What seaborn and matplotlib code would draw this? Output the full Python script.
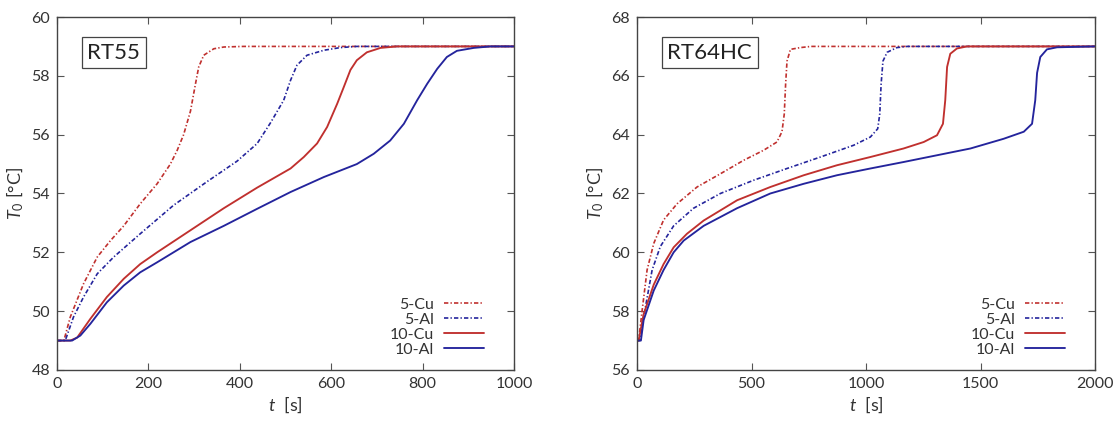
import numpy as np
import pandas as pd
import matplotlib
matplotlib.use("Agg")
import matplotlib.pyplot as plt
import seaborn as sns

# RT55 curves (t in s, T0 in degC)
rt55_cu5_t = [0, 15, 29, 58, 88, 117, 146, 182, 219, 248, 263, 277, 292, 303, 310, 321, 343, 365, 408, 1000]
rt55_cu5_T = [49.0, 49.0, 49.8, 50.93, 51.84, 52.4, 52.9, 53.65, 54.33, 55.0, 55.47, 56.0, 56.8, 57.73, 58.3, 58.7, 58.92, 58.98, 59.0, 59.0]

rt55_al5_t = [0, 18, 36, 58, 88, 124, 182, 255, 328, 394, 438, 467, 496, 511, 525, 547, 584, 620, 656, 1000]
rt55_al5_T = [49.0, 49.0, 49.8, 50.48, 51.27, 51.84, 52.63, 53.6, 54.4, 55.1, 55.7, 56.4, 57.17, 57.85, 58.36, 58.7, 58.87, 58.96, 59.0, 59.0]

rt55_cu10_t = [0, 29, 44, 73, 109, 146, 182, 219, 292, 365, 438, 511, 540, 569, 591, 613, 627, 642, 656, 678, 708, 744, 1000]
rt55_cu10_T = [49.0, 49.0, 49.1, 49.74, 50.48, 51.1, 51.6, 52.0, 52.75, 53.5, 54.2, 54.85, 55.24, 55.7, 56.26, 57.05, 57.6, 58.2, 58.53, 58.8, 58.95, 59.0, 59.0]

rt55_al10_t = [0, 33, 51, 73, 109, 146, 182, 219, 292, 365, 438, 511, 584, 656, 693, 729, 759, 788, 810, 832, 853, 875, 912, 948, 1000]
rt55_al10_T = [49.0, 49.0, 49.17, 49.57, 50.3, 50.87, 51.32, 51.66, 52.35, 52.9, 53.48, 54.05, 54.56, 55.0, 55.35, 55.8, 56.37, 57.17, 57.73, 58.24, 58.64, 58.85, 58.95, 59.0, 59.0]

# RT64HC curves
rt64_cu5_t = [0, 7, 22, 44, 73, 116, 175, 262, 364, 466, 553, 611, 633, 643, 649, 655, 670, 713, 760, 2000]
rt64_cu5_T = [57.0, 57.0, 58.0, 59.4, 60.3, 61.1, 61.65, 62.22, 62.67, 63.13, 63.47, 63.75, 64.1, 64.7, 65.73, 66.5, 66.9, 66.96, 67.0, 67.0]

rt64_al5_t = [0, 12, 36, 66, 102, 160, 247, 364, 509, 655, 801, 946, 1019, 1051, 1060, 1066, 1074, 1092, 1135, 1180, 2000]
rt64_al5_T = [57.0, 57.0, 58.1, 59.4, 60.2, 60.9, 61.5, 62.0, 62.45, 62.85, 63.24, 63.64, 63.92, 64.2, 64.7, 65.73, 66.5, 66.8, 66.96, 67.0, 67.0]

rt64_cu10_t = [0, 7, 29, 73, 116, 160, 218, 291, 437, 582, 728, 873, 1019, 1164, 1252, 1310, 1336, 1346, 1354, 1368, 1397, 1441, 2000]
rt64_cu10_T = [57.0, 57.0, 57.9, 58.9, 59.6, 60.17, 60.63, 61.08, 61.77, 62.22, 62.62, 62.96, 63.24, 63.53, 63.75, 63.98, 64.37, 65.17, 66.3, 66.75, 66.93, 67.0, 67.0]

rt64_al10_t = [0, 17, 29, 73, 116, 160, 204, 291, 437, 582, 728, 873, 1019, 1164, 1310, 1456, 1601, 1689, 1725, 1739, 1747, 1761, 1790, 1834, 2000]
rt64_al10_T = [57.0, 57.0, 57.7, 58.7, 59.4, 60.0, 60.4, 60.9, 61.5, 62.0, 62.33, 62.62, 62.85, 63.07, 63.3, 63.53, 63.86, 64.1, 64.37, 65.17, 66.1, 66.64, 66.9, 66.97, 67.0]

labels = ["5-Cu", "5-Al", "10-Cu", "10-Al"]
red = "#c0302e"
blue = "#24249c"

sns.set_style("ticks")
plt.rcParams["font.family"] = ["Lato", "DejaVu Sans"]
plt.rcParams["mathtext.fontset"] = "custom"
plt.rcParams["mathtext.rm"] = "Lato"
plt.rcParams["mathtext.it"] = "Lato:italic"
txt = "#333333"

fig = plt.figure(figsize=(11.16, 4.24), dpi=100)
ax1 = fig.add_axes([0.0511, 0.1274, 0.4095, 0.8325])
ax2 = fig.add_axes([0.5708, 0.1274, 0.4104, 0.8325])


def draw(ax, series, xlim, ylim, xticks, yticks, name):
    styles = [(red, (2.6, 1.3, 0.8, 1.3), 1.2), (blue, (2.6, 1.3, 0.8, 1.3), 1.2),
              (red, None, 1.35), (blue, None, 1.35)]
    for (t, T), lab, (c, d, lw) in zip(series, labels, styles):
        df = pd.DataFrame({"t": t, "T": T})
        sns.lineplot(data=df, x="t", y="T", ax=ax, color=c, lw=lw, label=lab, sort=False)
        if d is not None:
            ax.get_lines()[-1].set_dashes(d)
    ax.set_xlim(*xlim)
    ax.set_ylim(*ylim)
    ax.set_xticks(xticks)
    ax.set_yticks(yticks)
    ax.tick_params(direction="in", top=True, right=True, length=5, width=0.8,
                   labelsize=11.5, colors="#555555", labelcolor=txt)
    ax.tick_params(axis="x", pad=5)
    ax.tick_params(axis="y", pad=5)
    for s in ax.spines.values():
        s.set_linewidth(1.0)
        s.set_color("#444444")
    ax.set_xlabel("$t$  [s]", fontsize=13, color=txt, labelpad=3)
    ax.set_ylabel("$T_0$ [°C]", fontsize=13, color=txt, labelpad=4)
    ax.text(0.066, 0.899, name, transform=ax.transAxes, fontsize=16, color="#222222",
            va="center", ha="left",
            bbox=dict(boxstyle="square,pad=0.25", fc="white", ec="#444444", lw=0.9))
    ax.legend(loc="lower right", bbox_to_anchor=(0.934, 0.037), frameon=False, markerfirst=False,
              fontsize=11.5, handlelength=2.5, labelspacing=0.05, handletextpad=0.6,
              borderpad=0, borderaxespad=0, labelcolor=txt)


draw(ax1,
     [(rt55_cu5_t, rt55_cu5_T), (rt55_al5_t, rt55_al5_T), (rt55_cu10_t, rt55_cu10_T), (rt55_al10_t, rt55_al10_T)],
     (0, 1000), (48, 60), [0, 200, 400, 600, 800, 1000], [48, 50, 52, 54, 56, 58, 60], "RT55")
draw(ax2,
     [(rt64_cu5_t, rt64_cu5_T), (rt64_al5_t, rt64_al5_T), (rt64_cu10_t, rt64_cu10_T), (rt64_al10_t, rt64_al10_T)],
     (0, 2000), (56, 68), [0, 500, 1000, 1500, 2000], [56, 58, 60, 62, 64, 66, 68], "RT64HC")

fig.savefig("out.png", dpi=100)
